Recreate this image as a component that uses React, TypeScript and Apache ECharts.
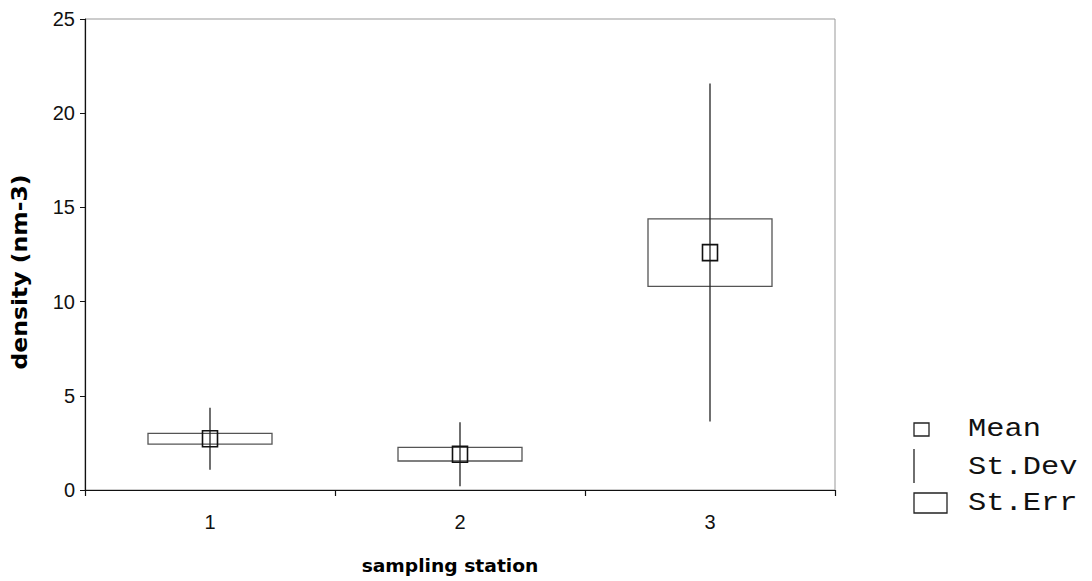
import React, { useEffect, useRef } from "react";
import * as echarts from "echarts";

const stations = ["1", "2", "3"];
const meanValues = [2.72, 1.9, 12.6];
const stdDevValues = [1.64, 1.7, 8.97];
const stdErrValues = [0.29, 0.36, 1.79];
const yTicks = { min: 0, max: 25, interval: 5 };
const legendLabels = ["Mean", "St.Dev", "St.Err"];

export default function App() {
  const ref = useRef<HTMLDivElement>(null);
  useEffect(() => {
    if (!ref.current) return;
    const chart = echarts.init(ref.current, null, { renderer: "svg" });
    const data = stations.map((s, i) => [i, meanValues[i], stdDevValues[i], stdErrValues[i]]);
    const monoFont = "'Liberation Mono', 'Courier New', monospace";
    chart.setOption({
      animation: false,
      backgroundColor: "#ffffff",
      grid: {
        left: 85,
        right: 257,
        top: 19,
        bottom: 91,
        show: true,
        borderColor: "#999",
        borderWidth: 1,
      },
      xAxis: {
        type: "category",
        data: stations,
        boundaryGap: true,
        axisLine: { lineStyle: { color: "#111", width: 1.2 } },
        axisTick: { show: true, length: 6, lineStyle: { color: "#111", width: 1.2 } },
        axisLabel: {
          color: "#111",
          fontSize: 20,
          fontFamily: "'Liberation Sans', Arial, sans-serif",
          margin: 22,
        },
        splitLine: { show: false },
      },
      yAxis: {
        type: "value",
        min: yTicks.min,
        max: yTicks.max,
        interval: yTicks.interval,
        axisLine: { show: true, lineStyle: { color: "#111", width: 1.2 } },
        axisTick: { show: true, length: 5, lineStyle: { color: "#111" } },
        axisLabel: {
          color: "#111",
          fontSize: 20,
          fontFamily: "'Liberation Sans', Arial, sans-serif",
          margin: 10,
        },
        splitLine: { show: false },
      },
      series: [
        {
          type: "custom",
          data,
          encode: { x: 0, y: 1 },
          renderItem: (params: any, api: any) => {
            const i = api.value(0);
            const m = api.value(1);
            const sd = api.value(2);
            const se = api.value(3);
            const c = api.coord([i, m]);
            const xc = c[0];
            const yM = c[1];
            const ySdHi = api.coord([i, m + sd])[1];
            const ySdLo = api.coord([i, m - sd])[1];
            const ySeHi = api.coord([i, m + se])[1];
            const ySeLo = api.coord([i, m - se])[1];
            const bandW = api.size([1, 0])[0];
            const halfW = bandW * 0.248;
            return {
              type: "group",
              children: [
                {
                  type: "rect",
                  shape: { x: xc - halfW, y: ySeHi, width: 2 * halfW, height: ySeLo - ySeHi },
                  style: { fill: "none", stroke: "#555", lineWidth: 1.3 },
                },
                {
                  type: "line",
                  shape: { x1: xc, y1: ySdHi, x2: xc, y2: ySdLo },
                  style: { stroke: "#222", lineWidth: 1.3 },
                },
                {
                  type: "rect",
                  shape: { x: xc - 7.5, y: yM - 8, width: 15, height: 16 },
                  style: { fill: "none", stroke: "#111", lineWidth: 1.6 },
                },
              ],
            };
          },
        },
      ],
      graphic: [
        {
          type: "text",
          x: 19,
          y: 272,
          rotation: Math.PI / 2,
          scaleX: 1.12,
          style: {
            text: "density (nm-3)",
            font: "900 21px 'DejaVu Sans', Verdana, sans-serif",
            fill: "#000",
            align: "center",
            verticalAlign: "middle",
          },
        },
        {
          type: "text",
          x: 450,
          y: 566,
          scaleX: 1.1,
          style: {
            text: "sampling station",
            font: "bold 17px 'DejaVu Sans', Verdana, sans-serif",
            fill: "#000",
            align: "center",
            verticalAlign: "middle",
          },
        },
        {
          type: "rect",
          shape: { x: 914, y: 423, width: 15, height: 13 },
          style: { fill: "none", stroke: "#222", lineWidth: 1.3 },
        },
        {
          type: "line",
          shape: { x1: 914, y1: 449, x2: 914, y2: 483 },
          style: { stroke: "#222", lineWidth: 1.3 },
        },
        {
          type: "rect",
          shape: { x: 914, y: 493, width: 33, height: 20 },
          style: { fill: "none", stroke: "#222", lineWidth: 1.3 },
        },
        ...legendLabels.map((t, k) => ({
          type: "text",
          x: 968,
          y: [429, 467, 503][k],
          scaleX: 1.17,
          style: {
            text: t,
            font: `26px ${monoFont}`,
            fill: "#111",
            align: "left",
            verticalAlign: "middle",
          },
        })),
      ],
    });
    return () => chart.dispose();
  }, []);
  return (
    <div
      ref={ref}
      style={{ position: "fixed", left: 0, top: 0, width: 1092, height: 581, background: "#fff" }}
    />
  );
}
